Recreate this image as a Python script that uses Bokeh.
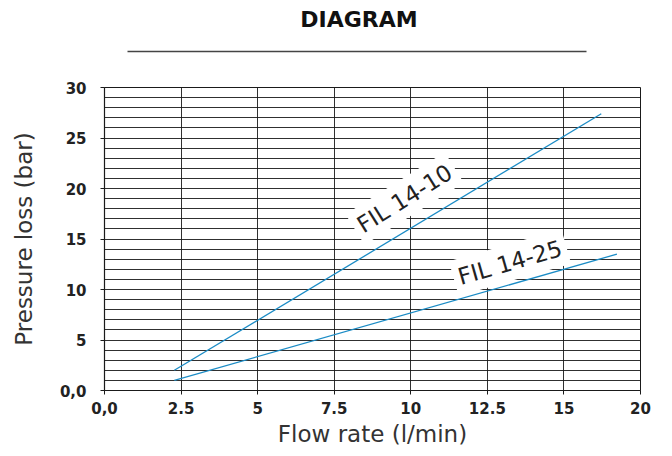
from bokeh.plotting import figure
from bokeh.models import Range1d, FixedTicker, ColumnDataSource
from bokeh.layouts import column
from bokeh.core.properties import value
from bokeh.embed import file_html
from bokeh.resources import INLINE
import math

# ---- data ----
title_text = "DIAGRAM"
x_label = "Flow rate (l/min)"
y_label = "Pressure loss (bar)"

x_ticks = [0, 2.5, 5, 7.5, 10, 12.5, 15, 17.5]
x_tick_labels = ["0,0", "2.5", "5", "7.5", "10", "12.5", "15", "20"]
y_ticks = [0, 5, 10, 15, 20, 25, 30]
y_tick_labels = ["0,0", "5", "10", "15", "20", "25", "30"]
y_minor = list(range(0, 31))

series_names = ["FIL 14-10", "FIL 14-25"]
fil_14_10_flow = [2.28, 16.22]
fil_14_10_pressure = [2.0, 27.4]
fil_14_25_flow = [2.28, 16.73]
fil_14_25_pressure = [1.0, 13.5]

label_x = [9.8, 13.24]
label_y = [19.0, 12.67]
label_angle_deg = [32, 16]

FONT = "DejaVu Sans"
BLUE = "#1b8cc6"
INK = "#1a1a1a"

# ---- header (title + rule) ----
header = figure(width=672, height=74, x_range=Range1d(104, 640), y_range=Range1d(74, 0),
                output_backend="svg", toolbar_location=None, min_border=0,
                min_border_left=104, min_border_right=32)
header.axis.visible = False
header.grid.visible = False
header.outline_line_color = None
header.text(x=[358.5], y=[19], text=[title_text], text_font=value(FONT),
            text_font_style="bold", text_font_size="22px", text_color="#111111",
            text_align="center", text_baseline="middle")
header.segment(x0=[127], y0=[51], x1=[586], y1=[51], line_color="#444444", line_width=1.5)

# ---- main plot ----
p = figure(width=672, height=382, x_range=Range1d(0, 17.5), y_range=Range1d(0, 30),
           output_backend="svg", toolbar_location=None,
           min_border_left=104, min_border_right=32, min_border_top=13, min_border_bottom=66)
p.outline_line_color = INK
p.outline_line_width = 1

p.xaxis.ticker = FixedTicker(ticks=x_ticks)
p.xaxis.major_label_overrides = {t: l for t, l in zip(x_ticks, x_tick_labels)}
p.yaxis.ticker = FixedTicker(ticks=y_ticks)
p.yaxis.major_label_overrides = {t: l for t, l in zip(y_ticks, y_tick_labels)}
p.xgrid.ticker = FixedTicker(ticks=x_ticks)
p.ygrid.ticker = FixedTicker(ticks=y_minor)
for g in (p.xgrid, p.ygrid):
    g.grid_line_color = INK
    g.grid_line_width = 1
    g.grid_line_alpha = 0.9

for ax in (p.xaxis, p.yaxis):
    ax.axis_line_color = INK
    ax.axis_line_width = 1.2
    ax.major_tick_line_color = INK
    ax.major_tick_in = 0
    ax.major_tick_out = 4
    ax.minor_tick_line_color = None
    ax.major_label_text_font = FONT
    ax.major_label_text_font_style = "bold"
    ax.major_label_text_font_size = "15px"
    ax.major_label_text_color = "#222222"
    ax.axis_label_text_font = FONT
    ax.axis_label_text_font_style = "normal"
    ax.axis_label_text_font_size = "23px"
    ax.axis_label_text_color = "#333333"

p.xaxis.axis_label = x_label
p.yaxis.axis_label = y_label
p.xaxis.major_label_standoff = 7
p.xaxis.axis_label_standoff = 4
p.yaxis.major_label_standoff = 14
p.yaxis.axis_label_standoff = 20

p.line(fil_14_10_flow, fil_14_10_pressure, line_color=BLUE, line_width=1.3)
p.line(fil_14_25_flow, fil_14_25_pressure, line_color=BLUE, line_width=1.3)

src = ColumnDataSource(dict(x=label_x, y=label_y, text=series_names,
                            angle=[math.radians(a) for a in label_angle_deg]))
p.text(x="x", y="y", text="text", angle="angle", source=src,
       text_font=value(FONT), text_font_size="23px", text_color="#222222",
       text_align="center", text_baseline="middle",
       background_fill_color="white", padding=5)

layout = column(header, p)
open("out.html", "w").write(file_html(layout, INLINE))
